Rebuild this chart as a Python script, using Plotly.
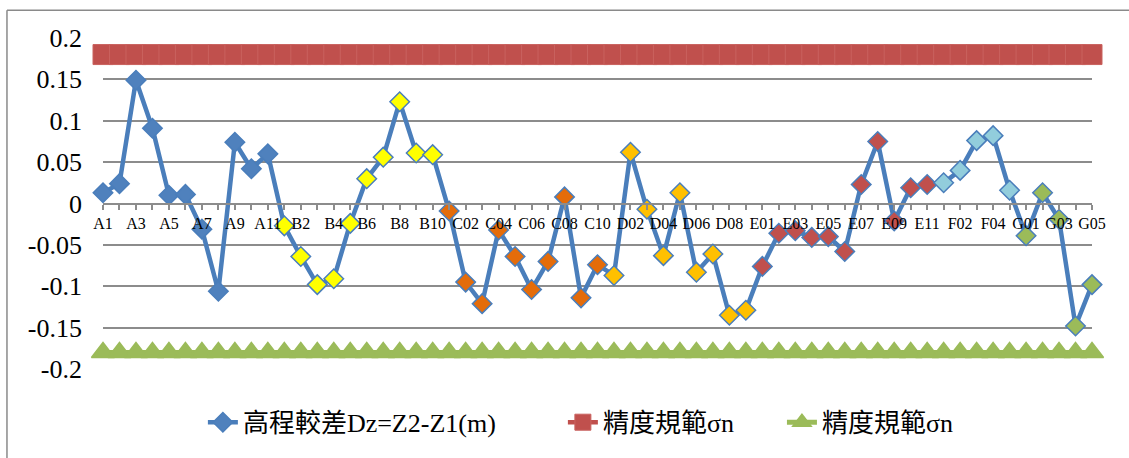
import plotly.graph_objects as go

# Survey points along the route
categories = [
    "A1", "A2", "A3", "A4", "A5", "A6", "A7", "A8", "A9", "A10", "A11",
    "B1", "B2", "B3", "B4", "B5", "B6", "B7", "B8", "B9", "B10",
    "C01", "C02", "C03", "C04", "C05", "C06", "C07", "C08", "C09", "C10",
    "D01", "D02", "D03", "D04", "D05", "D06", "D07", "D08", "D09",
    "E01", "E02", "E03", "E04", "E05", "E06", "E07", "E08", "E09", "E10", "E11",
    "F01", "F02", "F03", "F04", "F05",
    "G01", "G02", "G03", "G04", "G05",
]

# Elevation difference Dz = Z2 - Z1 (m)
dz = [
    0.013, 0.024, 0.149, 0.091, 0.010, 0.011, -0.031, -0.106, 0.074, 0.042, 0.060,
    -0.027, -0.064, -0.098, -0.091, -0.024, 0.030, 0.056, 0.123, 0.061, 0.059,
    -0.009, -0.095, -0.121, -0.032, -0.064, -0.104, -0.070, 0.008, -0.114, -0.074,
    -0.087, 0.062, -0.007, -0.063, 0.013, -0.083, -0.061, -0.135, -0.129,
    -0.076, -0.036, -0.033, -0.041, -0.040, -0.058, 0.023, 0.075, -0.021, 0.019, 0.023,
    0.025, 0.040, 0.076, 0.082, 0.016,
    -0.039, 0.013, -0.019, -0.148, -0.098,
]

# Accuracy limits (m)
limit_upper = 0.18
limit_lower = -0.18

y_tick_vals = [0.2, 0.15, 0.1, 0.05, 0, -0.05, -0.1, -0.15, -0.2]
y_tick_text = ["0.2", "0.15", "0.1", "0.05", "0", "-0.05", "-0.1", "-0.15", "-0.2"]

series_names = ["高程較差Dz=Z2-Z1(m)", "精度規範σn", "精度規範σn"]

# Marker fill per route section
section_colors = {
    "A": "#4F81BD",
    "B": "#FFFF00",
    "C": "#E46C0A",
    "D": "#FFC000",
    "E": "#C0504D",
    "F": "#92CDDC",
    "G": "#9BBB59",
}
point_colors = [section_colors[c[0]] for c in categories]
x_tick_text = [c if i % 2 == 0 else "" for i, c in enumerate(categories)]

SERIF = "Liberation Serif, Times New Roman, Noto Sans CJK TC, serif"
BLUE = "#4A7EBB"
RED = "#C0504D"
GREEN = "#9BBB59"
GRID = "#8C8C8C"
FRAME = "#8A8A8A"

fig = go.Figure()

fig.add_trace(go.Scatter(
    x=categories, y=dz, name=series_names[0], mode="lines+markers",
    line=dict(color=BLUE, width=4.5),
    marker=dict(symbol="diamond", size=15, color=point_colors,
                line=dict(color=BLUE, width=1.5)),
    cliponaxis=False, legend="legend",
))

fig.add_trace(go.Scatter(
    x=categories, y=[limit_upper] * len(categories), name=series_names[1],
    mode="lines+markers",
    line=dict(color=RED, width=4.5),
    marker=dict(symbol="square", size=20, color=RED,
                line=dict(color="#C9625F", width=1)),
    cliponaxis=False, legend="legend2",
))

fig.add_trace(go.Scatter(
    x=categories, y=[limit_lower] * len(categories), name=series_names[2],
    mode="lines+markers",
    line=dict(color=GREEN, width=5),
    marker=dict(symbol="triangle-up", size=20, color=GREEN,
                line=dict(color=GREEN, width=1.5)),
    cliponaxis=False, legend="legend3",
))

# Chart frame: only its left and top edges lie within the page
fig.add_shape(type="line", xref="paper", yref="paper",
              x0=-0.0971, x1=-0.0971, y0=-0.6, y1=1.0836,
              line=dict(color=FRAME, width=1.5), layer="below")
fig.add_shape(type="line", xref="paper", yref="paper",
              x0=-0.0971, x1=1.3, y0=1.0836, y1=1.0836,
              line=dict(color=FRAME, width=1.5), layer="below")

legend_common = dict(
    orientation="h", xanchor="left", y=-0.161, yanchor="middle",
    font=dict(family=SERIF, size=26, color="black"),
    bgcolor="rgba(0,0,0,0)",
)

fig.update_layout(
    width=1129, height=458,
    margin=dict(l=103, r=37, t=38, b=85),
    paper_bgcolor="white", plot_bgcolor="white",
    font=dict(family=SERIF, color="black"),
    showlegend=True,
    legend=dict(x=0.101, **legend_common),
    legend2=dict(x=0.465, **legend_common),
    legend3=dict(x=0.6865, **legend_common),
    xaxis=dict(
        type="category", range=[0, len(categories) - 1],
        anchor="free", position=0.5,
        tickmode="array", tickvals=categories, ticktext=x_tick_text,
        ticks="outside", ticklen=5, tickwidth=1.5, tickcolor=GRID,
        showline=True, linecolor=GRID, linewidth=2,
        showgrid=False, zeroline=False,
        tickfont=dict(family=SERIF, size=16, color="black"),
        tickangle=0,
    ),
    yaxis=dict(
        range=[-0.2, 0.2], domain=[0, 1],
        tickmode="array", tickvals=y_tick_vals, ticktext=y_tick_text,
        showgrid=True, gridcolor=GRID, gridwidth=1.6,
        zeroline=False, showline=False,
        ticks="", ticklabelstandoff=20,
        tickfont=dict(family=SERIF, size=26, color="black"),
    ),
)

fig.write_html("out.html")
